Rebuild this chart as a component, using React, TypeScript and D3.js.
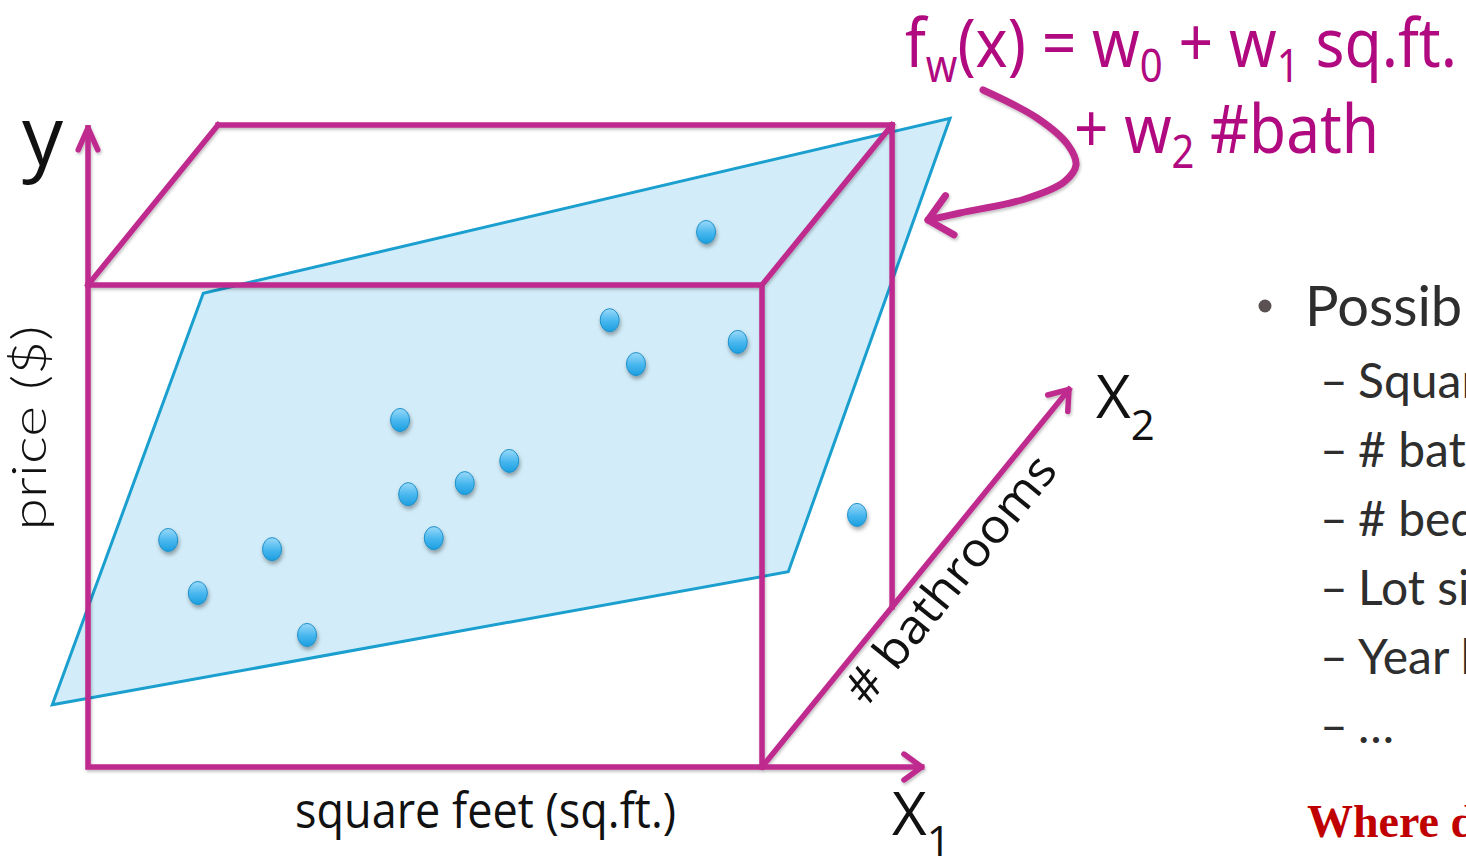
import React from "react";
import * as d3 from "d3";

const W = 1466;
const H = 859;

// ---- data (units: sq.ft. and price span 0–100 across the front face; bathrooms 0–1 is box depth) ----
const dotSqft = [91.7, 77.4, 96.4, 81.3, 46.3, 62.5, 55.9, 47.5, 51.3, 11.9, 27.3, 16.3, 32.5, 114.1];
const dotPrice = [111.0, 92.7, 88.2, 83.6, 72.0, 63.5, 58.9, 56.6, 47.5, 47.1, 45.2, 36.1, 27.4, 52.3];

const planeSqft = [-5.3, 17.1, 127.9, 103.9];
const planePrice = [12.9, 98.3, 134.6, 40.5];

const boxSqft = [0, 100];
const boxPrice = [0, 100];
const boxBath = [0, 1];
const yAxisEnd = 132.6;
const x1AxisEnd = 123.7;
const x2AxisEnd = 2.36;

const bulletHead = "Possible features";
const bulletItems = ["Square feet", "# bathrooms", "# bedrooms", "Lot size", "Year built", "…"];
const footerText = "Where do the features come from?";

// formula pieces: text, subscript flag, line index
const formulaText = ["f", "w", "(x) = w", "0", " + w", "1", " sq.ft.", "+ w", "2", " #bath"];
const formulaSub = [false, true, false, true, false, true, false, false, true, false];
const formulaLine = [0, 0, 0, 0, 0, 0, 0, 1, 1, 1];
const formulaLineStart = [905, 1074];
const formulaLineWidth = [552, 305];
const formulaLineBase = [67, 153];

// curved annotation arrow (screen space)
const curveX = [983, 1037, 1068, 1076, 1064, 1025, 960, 928];
const curveY = [90, 118, 145, 165, 182, 199, 213, 220];

const MAGENTA = "#BF2A8E";
const FORMULA = "#B1097F";

const x = d3.scaleLinear().domain([0, 100]).range([88, 762]);
const y = d3.scaleLinear().domain([0, 100]).range([767, 285]);
const DX = 19.3; // sq.ft. shift per unit depth
const DY = 33.2; // price shift per unit depth
const proj = (s: number, b: number, p: number): [number, number] => [x(s + b * DX), y(p + b * DY)];

function arrowHead(tip: [number, number], from: [number, number], len = 22, ang = 38) {
  const a = Math.atan2(from[1] - tip[1], from[0] - tip[0]);
  const r = (ang * Math.PI) / 180;
  const p1 = [tip[0] + len * Math.cos(a + r), tip[1] + len * Math.sin(a + r)];
  const p2 = [tip[0] + len * Math.cos(a - r), tip[1] + len * Math.sin(a - r)];
  return `M${p1[0]},${p1[1]}L${tip[0]},${tip[1]}L${p2[0]},${p2[1]}`;
}

export default function App() {
  const [s0, s1] = boxSqft;
  const [p0, p1] = boxPrice;
  const [b0, b1] = boxBath;

  const front = [proj(s0, b0, p0), proj(s1, b0, p0), proj(s1, b0, p1), proj(s0, b0, p1)];
  const segs: [[number, number], [number, number]][] = [
    [proj(s0, b0, p1), proj(s0, b1, p1)],
    [proj(s1, b0, p1), proj(s1, b1, p1)],
    [proj(s0, b1, p1), proj(s1, b1, p1)],
    [proj(s1, b1, p1), proj(s1, b1, p0)],
  ];
  const yAx: [[number, number], [number, number]] = [proj(s0, b0, p1), proj(s0, b0, yAxisEnd)];
  const x1Ax: [[number, number], [number, number]] = [proj(s1, b0, p0), proj(x1AxisEnd, b0, p0)];
  const x2Ax: [[number, number], [number, number]] = [proj(s1, b0, p0), proj(s1, x2AxisEnd, p0)];

  const line = d3.line();
  const planePts = planeSqft.map((s, i) => [x(s), y(planePrice[i])] as [number, number]);
  const curve = d3.line().curve(d3.curveCatmullRom.alpha(0.5))(
    curveX.map((cx, i) => [cx, curveY[i]] as [number, number])
  );
  const ctip: [number, number] = [curveX[curveX.length - 1], curveY[curveY.length - 1]];
  const cfrom: [number, number] = [curveX[curveX.length - 2], curveY[curveY.length - 2]];

  const ang = (Math.atan2(x2Ax[1][1] - x2Ax[0][1], x2Ax[1][0] - x2Ax[0][0]) * 180) / Math.PI;
  const dir = [Math.cos((ang * Math.PI) / 180), Math.sin((ang * Math.PI) / 180)];
  const nrm = [-dir[1], dir[0]];
  const bathAnchor = [x2Ax[0][0] + 112 * dir[0] + 44 * nrm[0], x2Ax[0][1] + 112 * dir[1] + 44 * nrm[1]];

  const sans = "'Open Sans', 'Noto Sans', sans-serif";
  const light = "Lato, 'Noto Sans', sans-serif";
  const formulaFont = "'Noto Sans', 'Open Sans', sans-serif";

  return (
    <svg
      width={W}
      height={H}
      viewBox={`0 0 ${W} ${H}`}
      style={{ position: "absolute", left: 0, top: 0, background: "#fff", overflow: "hidden" }}
    >
      <defs>
        <linearGradient id="dotGrad" x1="0" y1="0" x2="0" y2="1">
          <stop offset="0" stopColor="#9AD9F8" />
          <stop offset="0.55" stopColor="#45B6EE" />
          <stop offset="1" stopColor="#1C9FE0" />
        </linearGradient>
        <filter id="dotShadow" x="-50%" y="-50%" width="200%" height="200%">
          <feDropShadow dx="1" dy="3" stdDeviation="2" floodColor="#000" floodOpacity="0.35" />
        </filter>
        <filter id="lineShadow" x="-10%" y="-10%" width="120%" height="120%">
          <feDropShadow dx="1" dy="2" stdDeviation="1.5" floodColor="#000" floodOpacity="0.25" />
        </filter>
      </defs>

      {/* regression plane */}
      <path d={line(planePts)! + "Z"} fill="#D2EDF9" stroke="#1A9FCF" strokeWidth={3} strokeLinejoin="miter" />

      {/* box + axes */}
      <g stroke={MAGENTA} strokeWidth={5.5} fill="none" filter="url(#lineShadow)" strokeLinecap="square">
        <path d={line(front)! + "Z"} />
        {segs.map((sg, i) => (
          <path key={i} d={line(sg)!} />
        ))}
        <path d={line(yAx)!} />
        <path d={line(x1Ax)!} />
        <path d={line(x2Ax)!} />
        <path d={arrowHead(yAx[1], yAx[0], 24, 24)} strokeLinecap="round" strokeLinejoin="round" />
        <path d={arrowHead(x1Ax[1], x1Ax[0], 22, 36)} strokeLinecap="round" strokeLinejoin="round" />
        <path d={arrowHead(x2Ax[1], x2Ax[0], 22, 36)} strokeLinecap="round" strokeLinejoin="round" />
      </g>

      {/* curved pointer */}
      <g stroke={MAGENTA} strokeWidth={7} fill="none" strokeLinecap="round" strokeLinejoin="round" filter="url(#lineShadow)">
        <path d={curve!} />
        <path d={arrowHead(ctip, cfrom, 30, 42)} />
      </g>

      {/* data points */}
      <g filter="url(#dotShadow)">
        {dotSqft.map((s, i) => (
          <ellipse
            key={i}
            cx={x(s)}
            cy={y(dotPrice[i])}
            rx={9.5}
            ry={11.5}
            fill="url(#dotGrad)"
            stroke="#1E8FC9"
            strokeWidth={1}
          />
        ))}
      </g>

      {/* axis labels */}
      <text x={22} y={165} fontFamily={sans} fontSize={82} fill="#111">y</text>
      <text
        transform="translate(46,428) rotate(-90)"
        textAnchor="middle"
        fontFamily={light}
        fontWeight={300}
        fontSize={47}
        fill="#111"
        textLength={205}
        lengthAdjust="spacingAndGlyphs"
      >
        price ($)
      </text>
      <text x={295} y={828} fontFamily={sans} fontSize={50} fill="#111" textLength={381} lengthAdjust="spacingAndGlyphs">
        square feet (sq.ft.)
      </text>
      <text x={892} y={835} fontFamily={sans} fontSize={60} fill="#111">
        X<tspan fontSize={42} dy={21}>1</tspan>
      </text>
      <text x={1096} y={418} fontFamily={sans} fontSize={60} fill="#111">
        X<tspan fontSize={42} dy={22}>2</tspan>
      </text>
      <text
        transform={`translate(${bathAnchor[0]},${bathAnchor[1]}) rotate(${ang})`}
        fontFamily={sans}
        fontSize={47}
        fill="#111"
        textLength={305}
        lengthAdjust="spacingAndGlyphs"
      >
        # bathrooms
      </text>

      {/* formula */}
      {formulaLineStart.map((lx, li) => {
        const parts = formulaText.map((t, i) => ({ t, sub: formulaSub[i], line: formulaLine[i] })).filter((p) => p.line === li);
        let prevSub = false;
        return (
          <text
            key={li}
            x={lx}
            y={formulaLineBase[li]}
            fontFamily={formulaFont}
            fontSize={68}
            fill={FORMULA}
            textLength={formulaLineWidth[li]}
            lengthAdjust="spacingAndGlyphs"
            style={{ whiteSpace: "pre" }}
          >
            {parts.map((p, i) => {
              const dy = p.sub && !prevSub ? 15 : !p.sub && prevSub ? -15 : 0;
              prevSub = p.sub;
              return (
                <tspan key={i} dy={dy} fontSize={p.sub ? 45 : 68}>
                  {p.t}
                </tspan>
              );
            })}
          </text>
        );
      })}

      {/* bullet list (cropped by the slide edge) */}
      <circle cx={1265} cy={306} r={6.5} fill="#5A5252" />
      <text x={1305} y={326} fontFamily={light} fontSize={56} fill="#2E2E2E">
        {bulletHead}
      </text>
      {bulletItems.map((t, i) => (
        <g key={i}>
          <text x={1320} y={398 + i * 69} fontFamily={light} fontSize={48} fill="#2E2E2E">–</text>
          <text x={1358} y={398 + i * 69} fontFamily={light} fontSize={48} fill="#2E2E2E">
            {t}
          </text>
        </g>
      ))}
      <text x={1307} y={837} fontFamily="'Liberation Serif', 'DejaVu Serif', serif" fontWeight="bold" fontSize={46} fill="#C00000">
        {footerText}
      </text>
    </svg>
  );
}
